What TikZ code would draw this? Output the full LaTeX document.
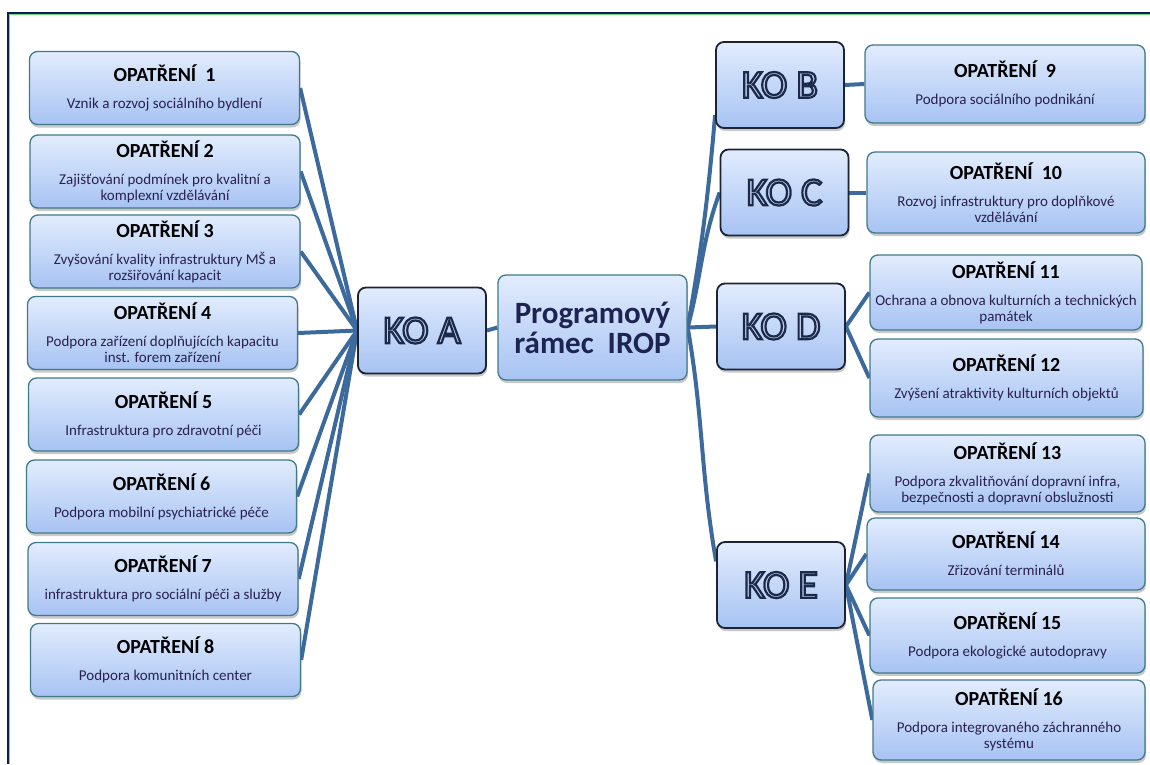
\documentclass[tikz,border=0pt]{standalone}
\usepackage{fontspec}
\setmainfont{Carlito}
\usetikzlibrary{shadows, backgrounds}

\definecolor{linkblue}{HTML}{3D6A9C}
\definecolor{boxtop}{HTML}{E2ECFD}
\definecolor{boxbot}{HTML}{A7C3F3}
\definecolor{boxedge}{HTML}{3F7A88}
\definecolor{koedge}{HTML}{1C2433}
\definecolor{subtext}{HTML}{2A2150}
\definecolor{kofill}{HTML}{BCCBE8}
\definecolor{hubtext}{HTML}{1E2452}
\definecolor{framenavy}{HTML}{0C1D5A}
\definecolor{framegreen}{HTML}{6EE07A}

\newcommand{\optitle}[1]{{\fontsize{20}{24}\selectfont\bfseries\color{black}#1}\\[11pt]}
% outlined letters: fill and stroke text render mode
\newcommand{\kolabel}[1]{\color{kofill}\special{pdf:literal direct 2 Tr 2.2 w 0.106 0.165 0.29 RG}#1\special{pdf:literal direct 0 Tr}}

\tikzset{
  opbox/.style={draw=boxedge, line width=1.3pt, rounded corners=8pt,
    top color=boxtop, bottom color=boxbot, align=center, inner sep=0pt,
    font=\fontsize{15}{16}\selectfont, text=subtext,
    minimum width=270pt, minimum height=73pt,
    drop shadow={shadow xshift=1pt, shadow yshift=-3pt, opacity=0.3, fill=black!70}},
  widebox/.style={opbox, minimum width=276pt, minimum height=77pt},
  kobox/.style={opbox, draw=koedge, line width=1.8pt,
    minimum width=128pt, minimum height=86pt, font=\fontsize{40}{44}\selectfont},
  hubbox/.style={opbox, minimum width=189pt, minimum height=105pt, text=hubtext,
    font=\fontsize{31}{30}\selectfont\bfseries},
  link/.style={draw=linkblue, line width=4pt},
}

\begin{document}
\begin{tikzpicture}[x=1pt, y=-1pt]
	\useasboundingbox (0,0) rectangle (1150,764);
	% Frame
	\draw[framenavy, line width=1.6pt] (8,764) -- (8,13) -- (1150,13);
	\draw[framegreen, line width=1pt] (9.8,764) -- (9.8,14.8) -- (1150,14.8);
	% Centre
	\node[hubbox] (irop) at (592.5,327.5) {Programový\\rámec\ \ IROP};
	% KO boxes
	\node[kobox] (koA) at (422,330.5) {\kolabel{KO A}};
	\node[kobox] (koB) at (780,85) {\kolabel{KO B}};
	\node[kobox] (koC) at (784.5,192.5) {\kolabel{KO C}};
	\node[kobox] (koD) at (781,326.5) {\kolabel{KO D}};
	\node[kobox] (koE) at (781,585) {\kolabel{KO\ E}};
	% Left column, KO A
	\node[opbox] (o1) at (164.5,88) {\optitle{OPATŘENÍ\ \ 1}Vznik a rozvoj sociálního bydlení};
	\node[opbox] (o2) at (165,171.5) {\optitle{OPATŘENÍ 2}Zajišťování podmínek pro kvalitní a\\komplexní vzdělávání};
	\node[opbox] (o3) at (165,251.5) {\optitle{OPATŘENÍ 3}Zvyšování kvality infrastruktury MŠ a\\rozšiřování kapacit};
	\node[opbox] (o4) at (162.5,333) {\optitle{OPATŘENÍ 4}Podpora zařízení doplňujících kapacitu\\inst. forem zařízení};
	\node[opbox] (o5) at (163.5,414.5) {\optitle{OPATŘENÍ 5}Infrastruktura pro zdravotní péči};
	\node[opbox] (o6) at (161.5,496.5) {\optitle{OPATŘENÍ 6}Podpora mobilní psychiatrické péče};
	\node[opbox] (o7) at (163,579) {\optitle{OPATŘENÍ 7}infrastruktura pro sociální péči a služby};
	\node[opbox] (o8) at (165.5,660) {\optitle{OPATŘENÍ 8}Podpora komunitních center};
	% Right column, KO B to KO E
	\node[widebox, minimum width=280pt, minimum height=78pt] (o9) at (1005,84) {\optitle{OPATŘENÍ\ \ 9}Podpora sociálního podnikání};
	\node[widebox, minimum width=278pt, minimum height=81pt] (o10) at (1006,192.5) {\optitle{OPATŘENÍ\ \ 10}Rozvoj infrastruktury pro doplňkové\\vzdělávání};
	\node[widebox, minimum width=272pt, minimum height=75pt] (o11) at (1006,292.5) {\optitle{OPATŘENÍ 11}Ochrana a obnova kulturních a technických\\památek};
	\node[widebox, minimum width=273pt, minimum height=78pt] (o12) at (1006.5,378) {\optitle{OPATŘENÍ 12}Zvýšení atraktivity kulturních objektů};
	\node[widebox, minimum width=275pt] (o13) at (1007.5,473.5) {\optitle{OPATŘENÍ 13}Podpora zkvalitňování dopravní infra,\\bezpečnosti a dopravní obslužnosti};
	\node[widebox, minimum width=278pt, minimum height=72pt] (o14) at (1006,554) {\optitle{OPATŘENÍ 14}Zřizování terminálů};
	\node[widebox, minimum width=275pt, minimum height=75pt] (o15) at (1007.5,635.5) {\optitle{OPATŘENÍ 15}Podpora ekologické autodopravy};
	\node[widebox, minimum width=272pt, minimum height=80pt] (o16) at (1009,720) {\optitle{OPATŘENÍ 16}Podpora integrovaného záchranného\\systému};
	% Connectors behind the boxes
	\begin{pgfonlayer}{background}
		\draw[link] (o1.east) -- (koA.west);
		\draw[link] (o2.east) -- (koA.west);
		\draw[link] (o3.east) -- (koA.west);
		\draw[link] (o4.east) -- (koA.west);
		\draw[link] (o5.east) -- (koA.west);
		\draw[link] (o6.east) -- (koA.west);
		\draw[link] (o7.east) -- (koA.west);
		\draw[link] (o8.east) -- (koA.west);
		\draw[link] (koA.east) -- (irop.west);
		\draw[link] (irop.east) to[out=80, in=-95] (koB.205);
		\draw[link] (irop.east) to[out=75, in=-110] (koC.west);
		\draw[link] (irop.east) -- (koD.west);
		\draw[link] (irop.east) to[out=-80, in=100] (koE.160);
		\draw[link] (koB.east) -- (o9.west);
		\draw[link] (koC.east) -- (o10.west);
		\draw[link] (koD.east) -- (o11.west);
		\draw[link] (koD.east) -- (o12.west);
		\draw[link] (koE.east) -- (o13.west);
		\draw[link] (koE.east) -- (o14.west);
		\draw[link] (koE.east) -- (o15.west);
		\draw[link] (koE.east) -- (o16.west);
	\end{pgfonlayer}
\end{tikzpicture}
\end{document}
